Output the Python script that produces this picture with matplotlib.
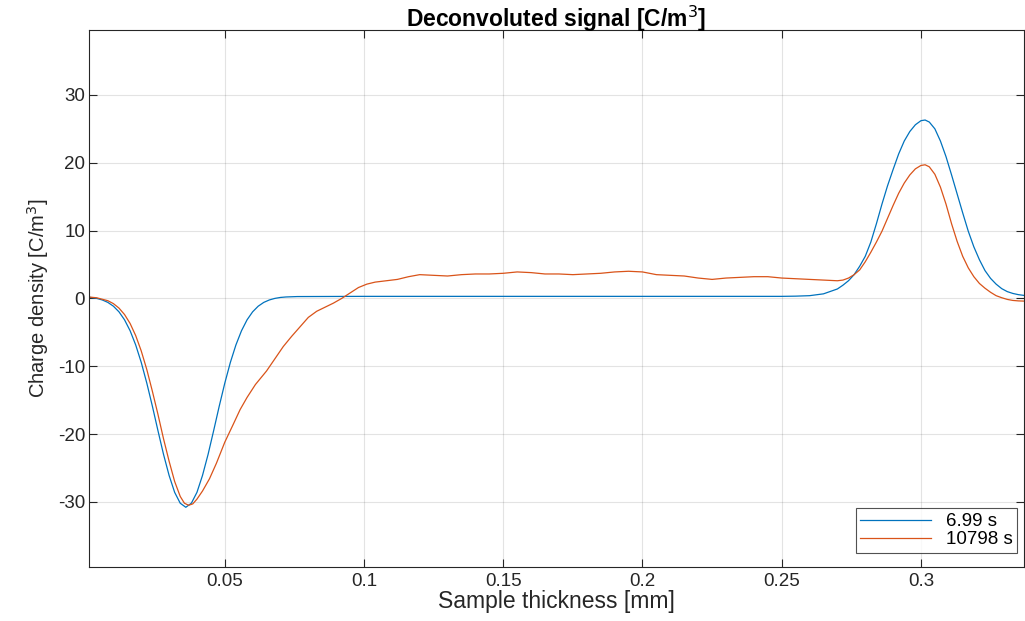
import matplotlib
matplotlib.use("Agg")
import matplotlib.pyplot as plt

plt.rcParams['font.family'] = ['Liberation Sans', 'DejaVu Sans']
plt.rcParams['axes.unicode_minus'] = False

# 6.99 s
x_blue = [0.0013, 0.004, 0.006, 0.008, 0.010, 0.012, 0.014, 0.016, 0.018, 0.020,
          0.022, 0.024, 0.026, 0.028, 0.030, 0.032, 0.034, 0.036, 0.038, 0.040,
          0.042, 0.044, 0.046, 0.048, 0.050, 0.052, 0.054, 0.056, 0.058, 0.060,
          0.062, 0.064, 0.066, 0.068, 0.070, 0.072, 0.076, 0.100, 0.150, 0.200,
          0.250, 0.255, 0.260, 0.265, 0.270, 0.272, 0.274, 0.276, 0.278, 0.280,
          0.282, 0.284, 0.286, 0.288, 0.290, 0.292, 0.294, 0.296, 0.298, 0.300,
          0.3015, 0.303, 0.305, 0.307, 0.309, 0.311, 0.313, 0.315, 0.317, 0.319,
          0.321, 0.323, 0.325, 0.327, 0.329, 0.331, 0.333, 0.335, 0.337]
y_blue = [0.17, 0.0, -0.23, -0.59, -1.15, -1.98, -3.16, -4.77, -6.86, -9.44,
          -12.5, -15.9, -19.5, -23.0, -26.1, -28.6, -30.2, -30.8, -30.2, -28.6,
          -26.1, -23.0, -19.5, -15.9, -12.5, -9.44, -6.86, -4.77, -3.16, -1.98,
          -1.15, -0.59, -0.23, 0.0, 0.14, 0.21, 0.27, 0.3, 0.3, 0.3,
          0.3, 0.33, 0.4, 0.67, 1.39, 1.95, 2.61, 3.5, 4.74, 6.2,
          8.3, 11.0, 13.9, 16.6, 19.0, 21.3, 23.2, 24.6, 25.6, 26.2,
          26.3, 26.0, 25.0, 23.2, 20.9, 18.2, 15.4, 12.6, 9.9, 7.6,
          5.7, 4.1, 2.95, 2.1, 1.44, 1.0, 0.73, 0.55, 0.44]

# 10798 s
x_orange = [0.0013, 0.004, 0.008, 0.010, 0.012, 0.014, 0.016, 0.018, 0.020, 0.022,
            0.024, 0.026, 0.028, 0.030, 0.032, 0.034, 0.0355, 0.037, 0.0385, 0.040,
            0.042, 0.0445, 0.047, 0.050, 0.053, 0.0555, 0.058, 0.061, 0.065, 0.068,
            0.071, 0.074, 0.077, 0.080, 0.083, 0.086, 0.089, 0.092, 0.095, 0.098,
            0.101, 0.104, 0.108, 0.112, 0.116, 0.120, 0.125, 0.130, 0.135, 0.140,
            0.145, 0.150, 0.155, 0.160, 0.165, 0.170, 0.175, 0.180, 0.185, 0.190,
            0.195, 0.200, 0.205, 0.210, 0.215, 0.220, 0.225, 0.230, 0.235, 0.240,
            0.245, 0.250, 0.255, 0.260, 0.265, 0.270, 0.272, 0.274, 0.276, 0.278,
            0.280, 0.282, 0.284, 0.286, 0.288, 0.290, 0.292, 0.294, 0.296, 0.298,
            0.300, 0.3015, 0.303, 0.305, 0.307, 0.309, 0.311, 0.313, 0.315, 0.317,
            0.319, 0.321, 0.323, 0.325, 0.327, 0.329, 0.331, 0.333, 0.335, 0.337]
y_orange = [0.2, 0.09, -0.34, -0.77, -1.43, -2.38, -3.7, -5.48, -7.75, -10.5,
            -13.7, -17.1, -20.7, -24.0, -27.0, -29.2, -30.2, -30.5, -30.3, -29.6,
            -28.4, -26.6, -24.3, -21.2, -18.6, -16.4, -14.6, -12.7, -10.7, -8.9,
            -7.1, -5.6, -4.2, -2.8, -1.9, -1.3, -0.7, 0.0, 0.8, 1.6,
            2.1, 2.4, 2.6, 2.8, 3.2, 3.5, 3.4, 3.3, 3.5, 3.6,
            3.6, 3.7, 3.9, 3.8, 3.6, 3.6, 3.5, 3.6, 3.7, 3.9,
            4.0, 3.9, 3.5, 3.4, 3.3, 3.0, 2.8, 3.0, 3.1, 3.2,
            3.2, 3.0, 2.9, 2.8, 2.7, 2.6, 2.7, 3.0, 3.5, 4.2,
            5.4, 6.8, 8.3, 9.9, 11.8, 13.7, 15.5, 17.0, 18.2, 19.1,
            19.6, 19.7, 19.4, 18.3, 16.4, 13.9, 11.0, 8.4, 6.2, 4.5,
            3.2, 2.2, 1.5, 0.9, 0.4, 0.1, -0.15, -0.3, -0.37, -0.4]

x_ticks = [0.05, 0.1, 0.15, 0.2, 0.25, 0.3]
x_tick_labels = ['0.05', '0.1', '0.15', '0.2', '0.25', '0.3']
y_ticks = [-30, -20, -10, 0, 10, 20, 30]
labels = ['6.99 s', '10798 s']

fig = plt.figure(figsize=(10.25, 6.21), dpi=100)
ax = fig.add_axes([0.087, 0.087, 0.912, 0.865])

ax.plot(x_blue, y_blue, color='#0072BD', lw=0.9, label=labels[0])
ax.plot(x_orange, y_orange, color='#D95319', lw=0.9, label=labels[1])

ax.set_xlim(0.0013, 0.337)
ax.set_ylim(-39.6, 39.6)
ax.set_xticks(x_ticks)
ax.set_xticklabels(x_tick_labels)
ax.set_yticks(y_ticks)

ax.grid(True, color='#000000', alpha=0.11, lw=0.8)
ax.set_axisbelow(True)
for s in ax.spines.values():
    s.set_color('#262626')
    s.set_linewidth(0.8)
ax.tick_params(direction='in', length=6, width=0.8, colors='#262626',
               top=True, right=True, labelsize=13.5)
ax.tick_params(axis='y', pad=3)
ax.tick_params(axis='x', pad=4)

ax.set_title('Deconvoluted signal [C/m$^3$]', fontsize=16.5, fontweight='bold', pad=2)
ax.set_xlabel('Sample thickness [mm]', fontsize=16.5, color='#262626', labelpad=0)
ax.set_ylabel('Charge density [C/m$^3$]', fontsize=14.5, color='#262626', labelpad=5)

leg = ax.legend(loc='lower right', bbox_to_anchor=(1 - 7 / 935, 14 / 537),
                fontsize=13.5, frameon=True, fancybox=False,
                edgecolor='#262626', handlelength=3.8, borderaxespad=0,
                labelspacing=0.05, handletextpad=0.75, borderpad=0.25)
leg.get_frame().set_linewidth(0.8)

fig.savefig('out.png', dpi=100)
